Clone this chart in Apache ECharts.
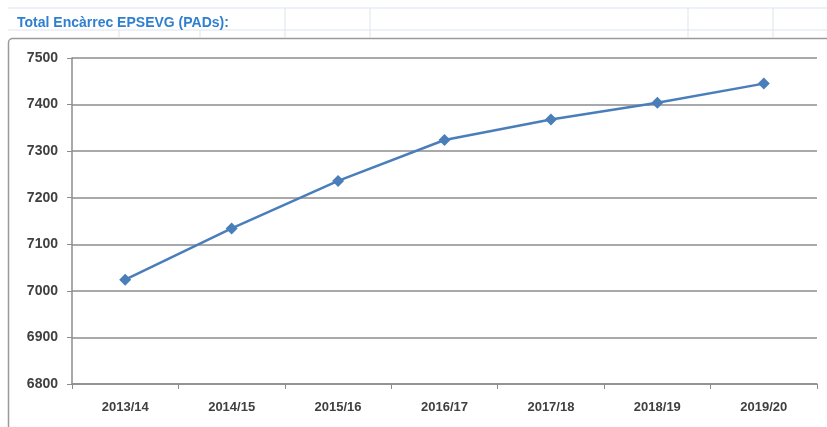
<!DOCTYPE html>
<html>
<head>
<meta charset="utf-8">
<script src="https://cdn.jsdelivr.net/npm/echarts@6/dist/echarts.min.js"></script>
<style>
  html, body { margin: 0; padding: 0; background: #fff; }
  #chart { width: 827px; height: 427px; }
</style>
</head>
<body>
<div id="chart"></div>
<script>
// cursos i encàrrec total
const cursos = ['2013/14', '2014/15', '2015/16', '2016/17', '2017/18', '2018/19', '2019/20']
const encarrec = [7024, 7134, 7236, 7324, 7368, 7404, 7445]
const yTicks = [6800, 7500, 100] // min, max, interval

const chart = echarts.init(document.getElementById('chart'))

// línies de la fulla de càlcul darrere del gràfic
const cellLines = []
;[285, 370, 688, 773].forEach(x => {
    cellLines.push({ type: 'line', shape: { x1: x, y1: 8, x2: x, y2: 38 }, style: { stroke: '#dde3ec', lineWidth: 1 }, silent: true })
})
;[119, 200].forEach(x => {
    cellLines.push({ type: 'line', shape: { x1: x, y1: 30, x2: x, y2: 38 }, style: { stroke: '#dde3ec', lineWidth: 1 }, silent: true })
})
;[8, 30].forEach(y => {
    cellLines.push({ type: 'line', shape: { x1: 8, y1: y, x2: 827, y2: y }, style: { stroke: '#dde3ec', lineWidth: 1 }, silent: true })
})

let options = {
    backgroundColor: '#fff',
    animation: false,
    title: {
        text: 'Total Encàrrec EPSEVG (PADs):',
        left: 12,
        top: 11,
        textStyle: {
            fontFamily: 'Liberation Sans Narrow, Liberation Sans, sans-serif',
            fontSize: 14,
            fontWeight: 'bold',
            color: '#2f7fd0'
        }
    },
    graphic: cellLines.concat([
        {
            type: 'rect',
            shape: { x: 8.5, y: 38.5, width: 830, height: 400, r: 4 },
            style: { fill: 'none', stroke: '#9a9a9a', lineWidth: 1.5 },
            silent: true,
            z: -1
        }
    ]),
    grid: {
        left: 72,
        right: 10,
        top: 58,
        bottom: 43
    },
    xAxis: {
        type: 'category',
        data: cursos,
        boundaryGap: true,
        axisLine: { lineStyle: { color: '#8c8c8c', width: 1.5 } },
        axisTick: { show: true, length: 5, lineStyle: { color: '#8c8c8c' } },
        axisLabel: {
            margin: 17,
            color: '#404040',
            fontFamily: 'Liberation Sans, sans-serif',
            fontSize: 13,
            fontWeight: 'bold'
        }
    },
    yAxis: {
        type: 'value',
        min: yTicks[0],
        max: yTicks[1],
        interval: yTicks[2],
        axisLine: { show: true, lineStyle: { color: '#8c8c8c', width: 1.5 } },
        axisTick: { show: true, length: 5, lineStyle: { color: '#8c8c8c' } },
        splitLine: { lineStyle: { color: '#8c8c8c', width: 1.5 } },
        axisLabel: {
            margin: 14,
            color: '#404040',
            fontFamily: 'Liberation Sans, sans-serif',
            fontSize: 14,
            fontWeight: 'bold',
            formatter: v => String(v)
        }
    },
    series: [
        {
            name: 'Encàrrec',
            type: 'line',
            data: encarrec,
            symbol: 'diamond',
            symbolSize: 12,
            itemStyle: { color: '#4a7ebb' },
            lineStyle: { color: '#4a7ebb', width: 2.5 }
        }
    ]
}
chart.setOption(options, true)
</script>
</body>
</html>
